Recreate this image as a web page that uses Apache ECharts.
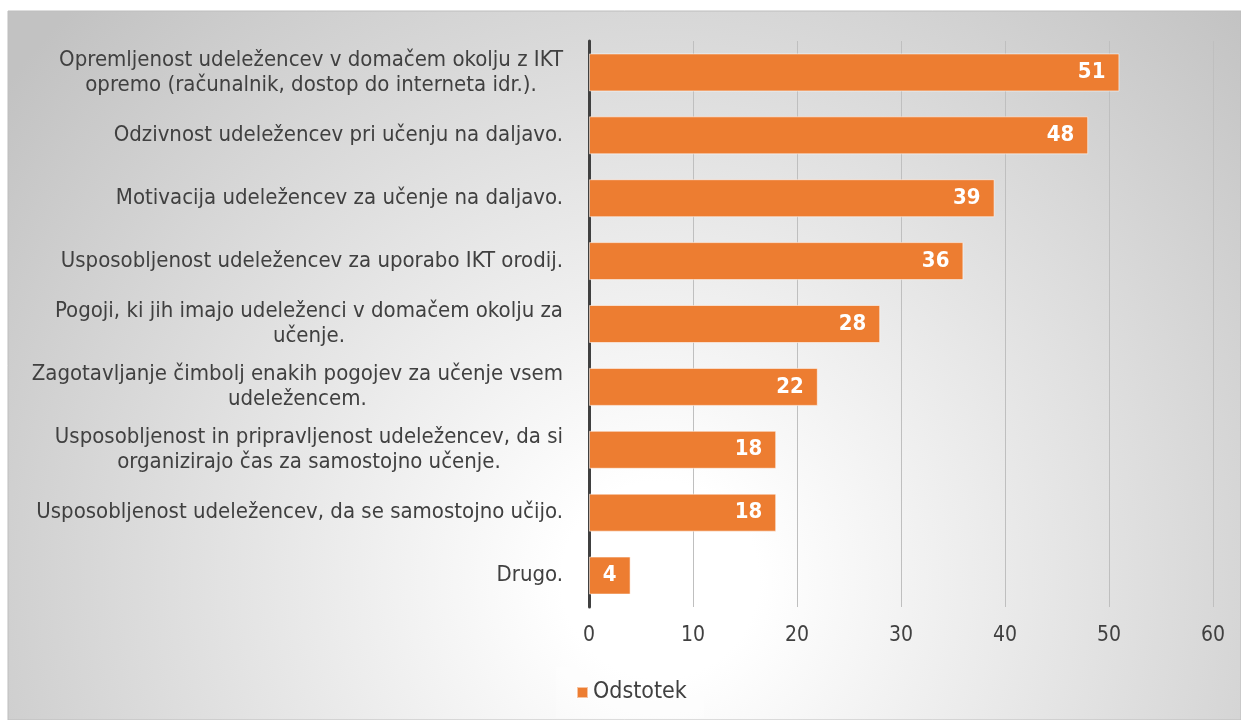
<!DOCTYPE html>
<html>
<head>
<meta charset="utf-8">
<script src="https://cdn.jsdelivr.net/npm/echarts@6/dist/echarts.min.js"></script>
<style>
  html, body { margin: 0; padding: 0; background: #fff; }
  #chart { width: 1241px; height: 720px; }
</style>
</head>
<body>
<div id="chart"></div>
<script>
var categories = [
	'Drugo.',
	'Usposobljenost udeležencev, da se samostojno učijo.',
	'Usposobljenost in pripravljenost udeležencev, da si\norganizirajo čas za samostojno učenje.',
	'Zagotavljanje čimbolj enakih pogojev za učenje vsem\nudeležencem.',
	'Pogoji, ki jih imajo udeleženci v domačem okolju za\nučenje.',
	'Usposobljenost udeležencev za uporabo IKT orodij.',
	'Motivacija udeležencev za učenje na daljavo.',
	'Odzivnost udeležencev pri učenju na daljavo.',
	'Opremljenost udeležencev v domačem okolju z IKT\nopremo (računalnik, dostop do interneta idr.).'
];
var values = [4, 18, 18, 22, 28, 36, 39, 48, 51];
var seriesName = 'Odstotek';

var textColor = '#404040';
var barColor = '#ED7D31';
var fontCond = 'DejaVu Sans Condensed';

var chart = echarts.init(document.getElementById('chart'));

var option = {
	animation: false,
	textStyle: { fontFamily: fontCond },
	graphic: [
		{
			type: 'rect',
			z: -10,
			silent: true,
			shape: { x: 8, y: 11, width: 1233, height: 709 },
			style: {
				fill: {
					type: 'radial', x: 660, y: 580, r: 820, global: true,
					colorStops: [
						{ offset: 0, color: '#ffffff' },
						{ offset: 0.12, color: '#ffffff' },
						{ offset: 1, color: '#c2c2c2' }
					]
				},
				stroke: '#bdbdbd',
				lineWidth: 1
			}
		}
	],
	grid: { left: 589, right: 28, top: 41, bottom: 113 },
	legend: {
		top: 667,
		left: 556,
		itemWidth: 11,
		itemHeight: 11,
		itemGap: 6,
		padding: [14, 18, 14, 20],
		backgroundColor: 'rgba(255,255,255,0.25)',
		textStyle: { color: textColor, fontSize: 23, fontFamily: fontCond },
		data: [{ name: seriesName, icon: 'rect' }]
	},
	xAxis: {
		type: 'value',
		min: 0,
		max: 60,
		interval: 10,
		axisLine: { show: false },
		axisTick: { show: false },
		axisLabel: { color: textColor, fontSize: 21, margin: 18 },
		splitLine: { show: true, lineStyle: { color: '#bfbfbf', width: 1 } }
	},
	yAxis: {
		type: 'category',
		data: categories,
		axisLine: { show: true, lineStyle: { color: '#404040', width: 3 } },
		axisTick: { show: false },
		axisLabel: {
			color: textColor,
			fontSize: 22,
			margin: 26,
			lineHeight: 25,
			formatter: function (value) {
				return value.split('\n').map(function (s) { return '{c|' + s + '}'; }).join('\n');
			},
			rich: {
				c: { align: 'center', color: textColor, fontSize: 22, lineHeight: 25, fontFamily: fontCond }
			}
		}
	},
	series: [
		{
			name: seriesName,
			type: 'bar',
			data: values,
			barWidth: 38,
			itemStyle: {
				color: barColor,
				borderColor: 'rgba(255,255,255,0.55)',
				borderWidth: 1
			},
			label: {
				show: true,
				position: 'insideRight',
				distance: 14,
				color: '#ffffff',
				fontWeight: 'bold',
				fontSize: 22,
				fontFamily: fontCond
			}
		}
	]
};

chart.setOption(option);
</script>
</body>
</html>
